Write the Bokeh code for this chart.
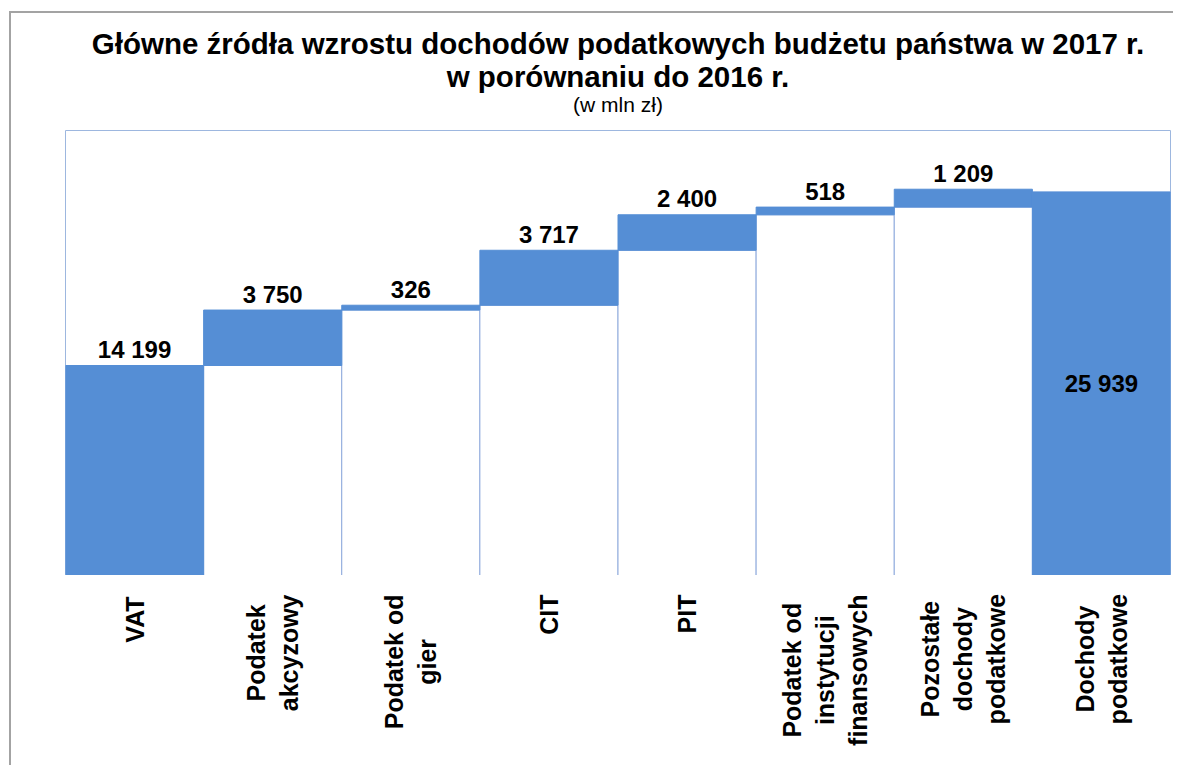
import math
from bokeh.plotting import figure
from bokeh.layouts import column
from bokeh.models import FactorRange, Range1d, ColumnDataSource
from bokeh.core.properties import value
from bokeh.embed import file_html
from bokeh.resources import INLINE

title_lines = ["Główne źródła wzrostu dochodów podatkowych budżetu państwa w 2017 r.",
               "w porównaniu do 2016 r."]
subtitle = "(w mln zł)"
categories = ["VAT", "Podatek akcyzowy", "Podatek od gier", "CIT", "PIT",
              "Podatek od instytucji finansowych", "Pozostałe dochody podatkowe",
              "Dochody podatkowe"]
tick_labels = ["VAT", "Podatek\nakcyzowy", "Podatek od\ngier", "CIT", "PIT",
               "Podatek od\ninstytucji\nfinansowych", "Pozostałe\ndochody\npodatkowe",
               "Dochody\npodatkowe"]
values = [14199, 3750, 326, 3717, 2400, 518, 1209, 25939]
is_total = [False, False, False, False, False, False, False, True]

FONT = "Liberation Sans"
BLUE = "#558ED5"
LAB_FS = 25  # px, category label font size
STANDOFF = 19

# approximate Arial/Liberation Sans Bold advance widths (1/1000 em) for centring rotated labels
CW = {" ": 278, "A": 722, "C": 722, "D": 722, "I": 278, "P": 667, "T": 611, "V": 667,
      "a": 556, "c": 556, "d": 611, "e": 556, "f": 333, "g": 611, "h": 611, "i": 278,
      "j": 278, "k": 556, "ł": 278, "n": 611, "o": 611, "r": 389, "s": 556, "t": 333,
      "u": 611, "w": 778, "y": 556, "z": 500}

def text_w(s):
    return sum(CW.get(ch, 556) for ch in s) / 1000 * LAB_FS

# waterfall geometry derived from values
bases, tops = [], []
running = 0
for v, t in zip(values, is_total):
    if t:
        bases.append(0)
        tops.append(v)
    else:
        bases.append(running)
        running += v
        tops.append(running)

label_text = [f"{v:,}".replace(",", " ") for v in values]
label_y = [(b + t) / 2 if tot else t for b, t, tot in zip(bases, tops, is_total)]
label_off = [0 if tot else -16 for tot in is_total]
cat_off = [STANDOFF + max(text_w(l) for l in lab.split("\n")) / 2 for lab in tick_labels]

src = ColumnDataSource(dict(cat=categories, base=bases, top=tops, zero=[0] * len(values),
                            lab=label_text, ly=label_y, loff=label_off,
                            tick=tick_labels, toff=cat_off, ty=[0] * len(values)))

W = 1162
BL, BR = 54, 3
xr = FactorRange(*categories, range_padding=0)

def bare(fig):
    fig.xaxis.visible = False
    fig.yaxis.visible = False
    fig.xgrid.visible = False
    fig.ygrid.visible = False
    return fig

# ---- title panel ----
TH = 117
t = bare(figure(x_range=Range1d(0, 1), y_range=Range1d(0, TH), width=W, height=TH,
                output_backend="svg", toolbar_location=None,
                min_border_left=BL, min_border_right=BR, min_border_top=0, min_border_bottom=0))
t.outline_line_color = None
t.text(x=[0.5], y=[71], text=["\n".join(title_lines)], text_align="center",
       text_baseline="middle", text_font=value(FONT), text_font_style="bold",
       text_font_size="29.5px", text_line_height=1.0, text_color="black")
t.text(x=[0.5], y=[26], text=[subtitle], text_align="center", text_baseline="middle",
       text_font=value(FONT), text_font_size="21px", text_color="black")

# ---- main waterfall ----
p = bare(figure(x_range=xr, y_range=Range1d(0, 30090), width=W, height=445,
                output_backend="svg", toolbar_location=None,
                min_border_left=BL, min_border_right=BR, min_border_top=0, min_border_bottom=0))
# white base bars
p.vbar(x="cat", bottom="zero", top="base", width=1.0, source=src,
       fill_color="white", line_color="#8FAADC", line_width=1)
# blue value bars
p.vbar(x="cat", bottom="base", top="top", width=1.0, source=src,
       fill_color=BLUE, line_color=BLUE, line_width=1)
p.text(x="cat", y="ly", text="lab", source=src, text_align="center",
       text_baseline="middle", y_offset="loff", text_font=value(FONT),
       text_font_style="bold", text_font_size="24px", text_color="black")
p.outline_line_color = "#9DB7DF"
p.outline_line_width = 1

# ---- category labels panel sharing the x scale ----
q = bare(figure(x_range=xr, y_range=Range1d(-1, 0), width=W, height=190,
                output_backend="svg", toolbar_location=None,
                min_border_left=BL, min_border_right=BR, min_border_top=0, min_border_bottom=0))
q.text(x="cat", y="ty", text="tick", source=src, y_offset="toff", angle=math.pi / 2,
       text_align="center", text_baseline="middle", text_font=value(FONT),
       text_font_style="bold", text_font_size=f"{LAB_FS}px", text_line_height=1.18,
       text_color="black")
q.outline_line_color = None

layout = column(t, p, q, spacing=0)
layout.styles = {"border-top": "2px solid #A3A3A3", "border-left": "2px solid #A3A3A3",
                 "margin-left": "9px", "margin-top": "11px"}

open("out.html", "w").write(file_html(layout, INLINE))
